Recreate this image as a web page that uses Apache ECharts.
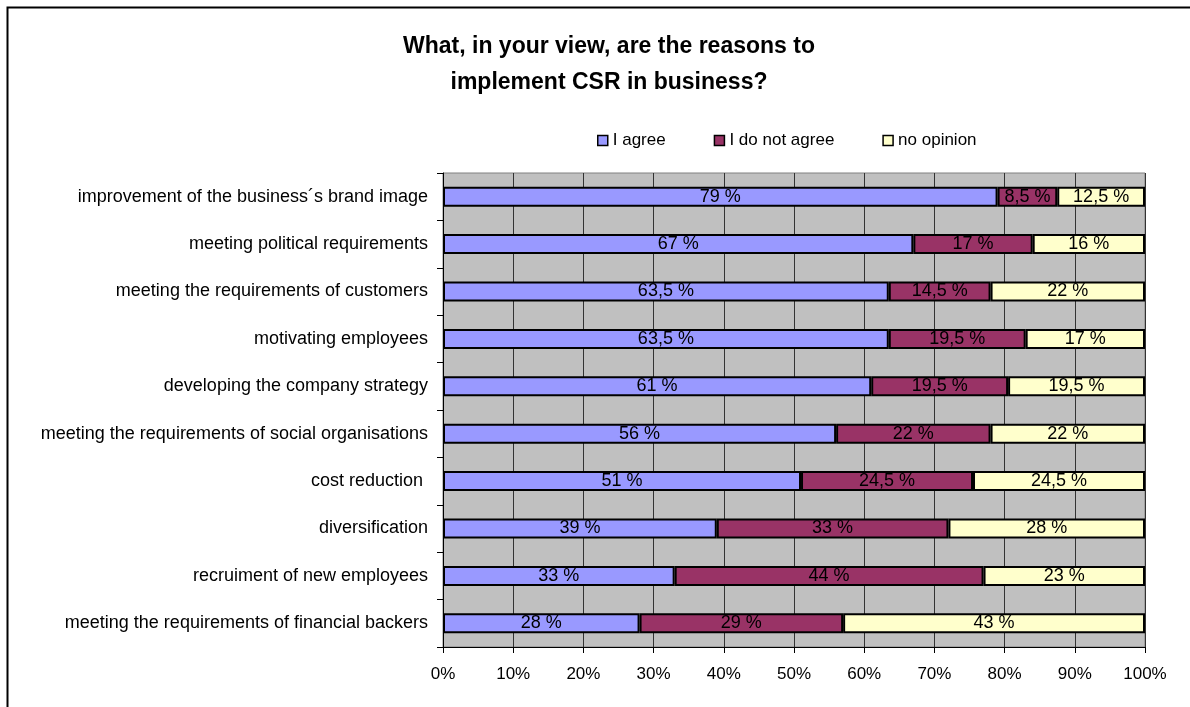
<!DOCTYPE html>
<html>
<head>
<meta charset="utf-8">
<script src="https://cdn.jsdelivr.net/npm/echarts@6/dist/echarts.min.js"></script>
<style>
  html, body { margin: 0; padding: 0; background: #fff; }
  #chart { width: 1190px; height: 707px; }
</style>
</head>
<body>
<div id="chart"></div>
<script>
// Survey answers, shares in percent (each row sums to 100)
const categories = [
  'improvement of the business\u00b4s brand image',
  'meeting political requirements',
  'meeting the requirements of customers',
  'motivating employees',
  'developing the company strategy',
  'meeting the requirements of social organisations',
  'cost reduction ',
  'diversification',
  'recruiment of new employees',
  'meeting the requirements of financial backers'
];
const agree =      [79, 67, 63.5, 63.5, 61, 56, 51, 39, 33, 28];
const disagree =   [8.5, 17, 14.5, 19.5, 19.5, 22, 24.5, 33, 44, 29];
const noOpinion =  [12.5, 16, 22, 17, 19.5, 22, 24.5, 28, 23, 43];
const seriesNames = ['I agree', 'I do not agree', 'no opinion'];
const xTicks = [0, 10, 20, 30, 40, 50, 60, 70, 80, 90, 100];

const FONT = '"Liberation Sans", Arial, sans-serif';
const colors = ['#9999FF', '#993366', '#FFFFCC'];

const fmt = v => String(v).replace('.', ',') + ' %';

function makeSeries(name, data, color) {
  return {
    name: name,
    type: 'bar',
    stack: 'total',
    data: data,
    barWidth: 20,
    itemStyle: { color: color, borderColor: '#000', borderWidth: 2 },
    label: {
      show: true,
      position: 'inside',
      color: '#000',
      fontFamily: FONT,
      fontSize: 18,
      formatter: p => fmt(p.value)
    },
    emphasis: { disabled: true }
  };
}

const chart = echarts.init(document.getElementById('chart'), null, { renderer: 'canvas' });
chart.setOption({
  animation: false,
  backgroundColor: '#fff',
  graphic: [{
    type: 'rect',
    shape: { x: 7.5, y: 7.5, width: 1200, height: 720 },
    style: { fill: null, stroke: '#000', lineWidth: 2 },
    silent: true,
    z: -1
  }],
  title: {
    text: 'What, in your view, are the reasons to\nimplement CSR in business?',
    left: 604,
    textAlign: 'center',
    top: 24,
    textStyle: {
      fontFamily: FONT,
      fontWeight: 'bold',
      fontSize: 23,
      lineHeight: 36,
      color: '#000'
    }
  },
  legend: {
    data: seriesNames,
    left: 592,
    top: 127,
    itemWidth: 10,
    itemHeight: 10,
    itemGap: 48,
    icon: 'rect',
    textStyle: { fontFamily: FONT, fontSize: 17, color: '#000' },
    itemStyle: { borderColor: '#000', borderWidth: 1.5 }
  },
  grid: {
    left: 443,
    top: 173,
    right: 45,
    bottom: 60,
    show: true,
    backgroundColor: '#C0C0C0',
    borderColor: '#808080',
    borderWidth: 1
  },
  xAxis: {
    type: 'value',
    min: 0,
    max: 100,
    interval: 10,
    axisLine: { show: true, lineStyle: { color: '#000', width: 1 } },
    axisTick: { show: true, length: 6, lineStyle: { color: '#000' } },
    axisLabel: {
      fontFamily: FONT,
      fontSize: 17,
      color: '#000',
      margin: 19,
      formatter: v => xTicks.includes(v) ? v + '%' : ''
    },
    splitLine: { show: true, lineStyle: { color: '#333', width: 1 } }
  },
  yAxis: {
    type: 'category',
    data: categories,
    inverse: true,
    axisLine: { show: true, lineStyle: { color: '#000', width: 1 } },
    axisTick: { show: true, length: 6, lineStyle: { color: '#000' } },
    axisLabel: { fontFamily: FONT, fontSize: 18, color: '#000', margin: 15 },
    splitLine: { show: false }
  },
  series: [
    makeSeries(seriesNames[0], agree, colors[0]),
    makeSeries(seriesNames[1], disagree, colors[1]),
    makeSeries(seriesNames[2], noOpinion, colors[2])
  ]
});
</script>
</body>
</html>
